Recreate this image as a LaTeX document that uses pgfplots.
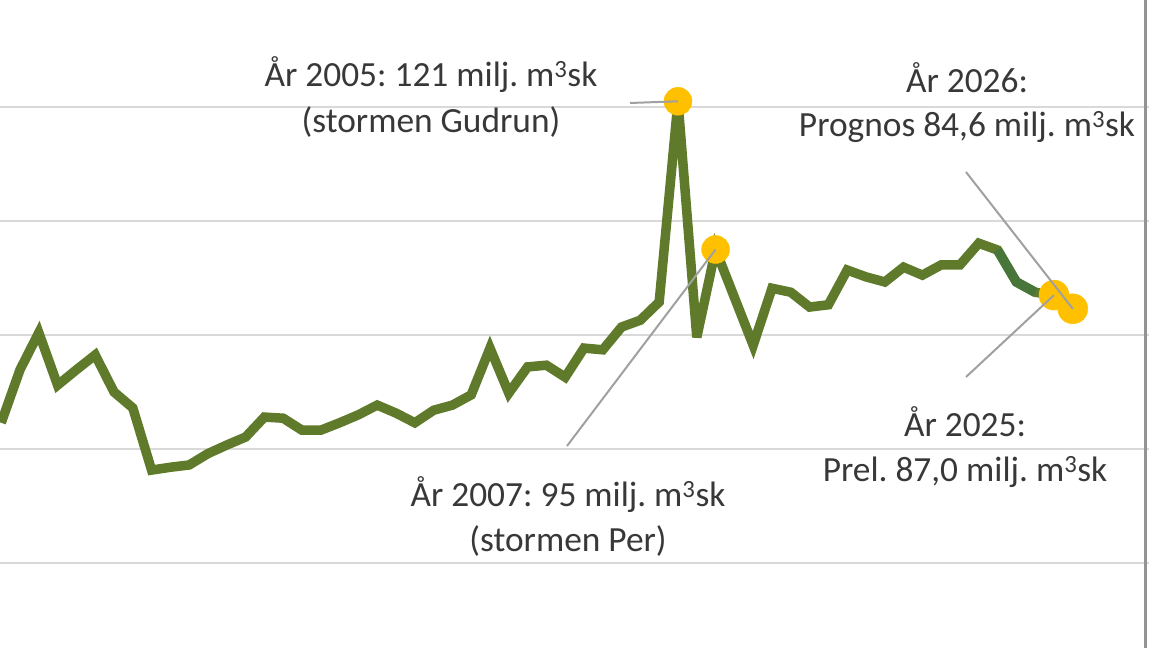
\documentclass[border=0pt]{standalone}
\usepackage{pgfplots}
\usepackage{pgfplotstable}
\pgfplotsset{compat=1.18}
\usepackage{fontspec}
\setmainfont{Carlito}
\frenchspacing

\definecolor{linegreen}{RGB}{94,122,42}
\definecolor{lategreen}{RGB}{72,118,58}
\definecolor{dotgold}{RGB}{255,192,0}
\definecolor{gridgray}{RGB}{217,217,217}
\definecolor{leadgray}{RGB}{160,160,160}
\definecolor{txtgray}{RGB}{56,56,56}

% gross felling, million m3sk
\pgfplotstableread{
year value
1969 64.6
1970 73.9
1971 80.4
1972 71.2
1973 73.9
1974 76.5
1975 70.0
1976 67.2
1977 56.3
1978 56.8
1979 57.2
1980 59.2
1981 60.7
1982 62.1
1983 65.6
1984 65.4
1985 63.3
1986 63.3
1987 64.6
1988 66.0
1989 67.7
1990 66.3
1991 64.6
1992 66.8
1993 67.7
1994 69.5
1995 77.7
1996 69.8
1997 74.4
1998 74.7
1999 72.6
2000 77.7
2001 77.4
2002 81.4
2003 82.6
2004 85.8
2005 121
2006 79.6
2007 95
2008 86.6
2009 78.2
2010 88.2
2011 87.5
2012 84.9
2013 85.3
2014 91.4
2015 90.2
2016 89.3
2017 91.9
2018 90.5
2019 92.3
2020 92.3
2021 96.1
2022 94.9
2023 89.3
2024 87.5
2025 87.0
}\felling

\newcommand{\mtre}{m\textsuperscript{3}sk}

\begin{document}
\begin{tikzpicture}
\begin{axis}[
    scale only axis,
    width=1149bp, height=648bp,
    xmin=1968.936, xmax=2030.053,
    ymin=25.09, ymax=138.77,
    axis line style={draw=none},
    xtick=\empty,
    ytick={40,60,80,100,120},
    yticklabels={},
    major tick length=0pt,
    ymajorgrids=true,
    grid style={gridgray, line width=2.5bp},
  ]
  \addplot[linegreen, line width=9.5bp, line join=miter, miter limit=4, mark=none]
    table[x=year, y=value] {\felling};
  \addplot[lategreen, line width=9.5bp, line join=round, mark=none]
    coordinates {(2022,94.9)(2023,89.3)(2024,87.5)};
  \addplot[dotgold, only marks, mark=*, mark size=14bp, mark options={draw=dotgold, fill=dotgold}]
    coordinates {(2005,121)(2007,95)};
  \addplot[dotgold, only marks, mark=*, mark size=15bp, mark options={draw=dotgold, fill=dotgold}]
    coordinates {(2025,87.0)(2026,84.6)};
  \coordinate (p05) at (axis cs:2005,121);
  \coordinate (p07) at (axis cs:2007,95);
  \coordinate (p25) at (axis cs:2025,87.0);
  \coordinate (p26) at (axis cs:2026,84.6);
\end{axis}

\begin{scope}[x=1bp, y=-1bp, yshift=648bp]
  % chart border on the right
  \draw[gray!85, line width=3bp] (1145,0) -- (1145,648);
  % leader lines
  \draw[leadgray, line width=2bp] (630,103) -- (p05);
  \draw[leadgray, line width=2bp] (567,446) -- (p07);
  \draw[leadgray, line width=2bp] (966,172) -- (p26);
  \draw[leadgray, line width=2bp] (966,377) -- (p25);

  \begin{scope}[every node/.style={text=txtgray, align=center, inner sep=0pt,
      font=\fontsize{35.5}{46}\selectfont}]
    \node[anchor=base] at (431,87) {År 2005: 121 milj. \mtre};
    \node[anchor=base] at (431,133) {(stormen Gudrun)};
    \node[anchor=base] at (967,93) {År 2026:};
    \node[anchor=base] at (967,137) {Prognos 84,6 milj. \mtre};
    \node[anchor=base] at (965,437) {År 2025:};
    \node[anchor=base] at (965,482) {Prel. 87,0 milj. \mtre};
    \node[anchor=base] at (568,507) {År 2007: 95 milj. \mtre};
    \node[anchor=base] at (568,552) {(stormen Per)};
  \end{scope}
\end{scope}

\pgfresetboundingbox
\path (0,0) rectangle (1149bp,648bp);
\end{tikzpicture}
\end{document}
